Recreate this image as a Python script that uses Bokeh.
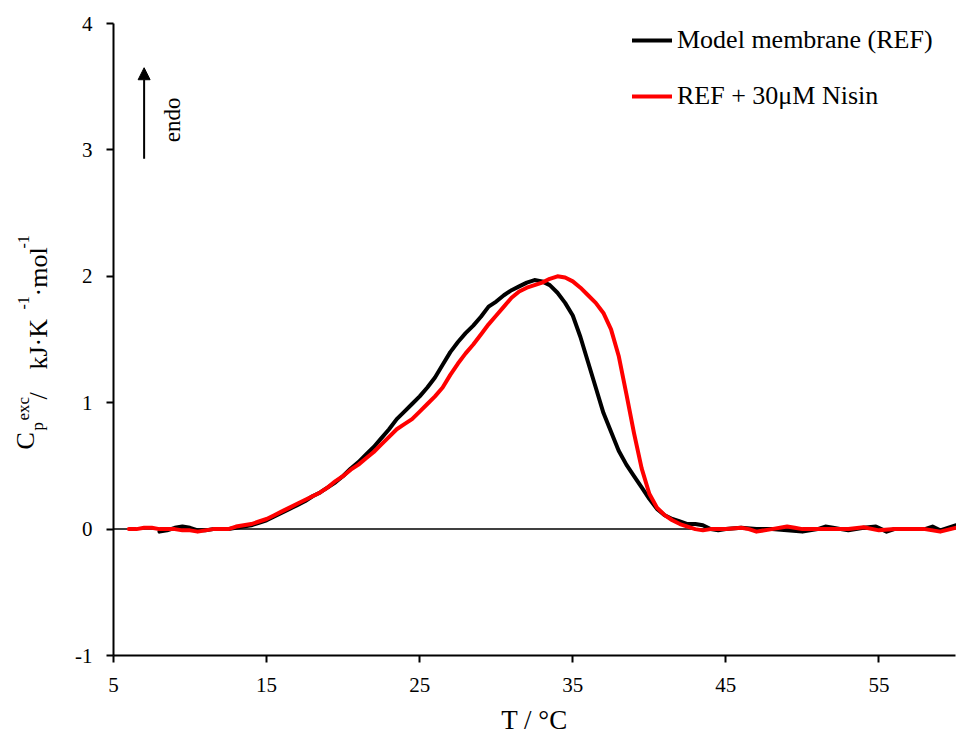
import numpy as np
from bokeh.plotting import figure
from bokeh.models import (FixedTicker, Label, Arrow, NormalHead, Legend,
                          LegendItem, Range1d)
from bokeh.embed import file_html
from bokeh.resources import INLINE

# ---------------- data ----------------
T_ref = [8.0, 8.5, 9.0, 9.5, 10.0, 10.5, 11.0, 11.5, 12.0, 12.5, 13.0, 13.5, 14.0, 14.5,
         15.0, 15.5, 16.0, 16.5, 17.0, 17.5, 18.0, 18.5, 19.0, 19.5, 20.0, 20.5, 21.0,
         21.5, 22.0, 22.5, 23.0, 23.5, 24.0, 24.5, 25.0, 25.5, 26.0, 26.5, 27.0, 27.5,
         28.0, 28.5, 29.0, 29.5, 30.0, 30.5, 31.0, 31.5, 32.0, 32.5, 33.0, 33.5, 34.0,
         34.5, 35.0, 35.5, 36.0, 36.5, 37.0, 37.5, 38.0, 38.5, 39.0, 39.5, 40.0, 40.5,
         41.0, 41.5, 42.0, 42.5, 43.0, 43.5, 44.0, 44.5, 45.0, 46.0, 47.0, 48.0, 49.0,
         50.0, 51.0, 51.5, 52.0, 53.0, 54.0, 54.8, 55.5, 56.0, 57.0, 58.0, 58.5, 59.0,
         59.5, 60.0]
cp_ref = [-0.02, -0.01, 0.01, 0.02, 0.01, -0.01, -0.01, 0.0, 0.0, 0.0, 0.01, 0.02, 0.03,
          0.05, 0.07, 0.10, 0.13, 0.16, 0.19, 0.22, 0.26, 0.29, 0.33, 0.37, 0.42, 0.48,
          0.53, 0.59, 0.65, 0.72, 0.79, 0.87, 0.93, 0.99, 1.05, 1.12, 1.20, 1.30, 1.40,
          1.48, 1.55, 1.61, 1.68, 1.76, 1.80, 1.85, 1.89, 1.92, 1.95, 1.97, 1.96, 1.93,
          1.87, 1.79, 1.69, 1.52, 1.32, 1.12, 0.92, 0.77, 0.62, 0.51, 0.42, 0.33, 0.24,
          0.16, 0.11, 0.08, 0.06, 0.04, 0.04, 0.03, 0.0, -0.01, 0.0, 0.01, 0.0, 0.0,
          -0.01, -0.02, 0.0, 0.02, 0.01, -0.01, 0.01, 0.02, -0.02, 0.0, 0.0, 0.0, 0.02,
          -0.01, 0.01, 0.03]

T_nis = [6.0, 6.5, 7.0, 7.5, 8.0, 8.5, 9.0, 9.5, 10.0, 10.5, 11.0, 11.5, 12.0, 12.5,
         13.0, 13.5, 14.0, 14.5, 15.0, 15.5, 16.0, 16.5, 17.0, 17.5, 18.0, 18.5, 19.0,
         19.5, 20.0, 20.5, 21.0, 21.5, 22.0, 22.5, 23.0, 23.5, 24.0, 24.5, 25.0, 25.5,
         26.0, 26.5, 27.0, 27.5, 28.0, 28.5, 29.0, 29.5, 30.0, 30.5, 31.0, 31.5, 32.0,
         32.5, 33.0, 33.5, 34.0, 34.5, 35.0, 35.5, 36.0, 36.5, 37.0, 37.5, 38.0, 38.5,
         39.0, 39.5, 40.0, 40.5, 41.0, 41.5, 42.0, 42.5, 43.0, 43.5, 44.0, 45.0, 46.0,
         46.5, 47.0, 48.0, 49.0, 49.5, 50.0, 51.0, 52.0, 53.0, 54.0, 55.0, 56.0, 57.0,
         58.0, 59.0, 60.0]
cp_nis = [0.0, 0.0, 0.01, 0.01, 0.0, 0.0, 0.0, -0.01, -0.01, -0.02, -0.01, 0.0, 0.0,
          0.0, 0.02, 0.03, 0.04, 0.06, 0.08, 0.11, 0.14, 0.17, 0.20, 0.23, 0.26, 0.29,
          0.33, 0.38, 0.42, 0.47, 0.51, 0.56, 0.61, 0.67, 0.73, 0.79, 0.83, 0.87, 0.93,
          0.99, 1.05, 1.12, 1.22, 1.31, 1.39, 1.46, 1.54, 1.62, 1.69, 1.76, 1.83, 1.88,
          1.91, 1.93, 1.95, 1.98, 2.00, 1.99, 1.96, 1.91, 1.85, 1.79, 1.71, 1.58, 1.37,
          1.07, 0.76, 0.48, 0.28, 0.17, 0.11, 0.07, 0.04, 0.02, 0.0, -0.01, 0.0, 0.0,
          0.01, 0.0, -0.02, 0.0, 0.02, 0.01, 0.0, 0.0, 0.0, 0.0, 0.015, -0.01, 0.0, 0.0,
          0.0, -0.02, 0.01]

X_MIN, X_MAX = 5, 60
Y_MIN, Y_MAX = -1, 4
x_ticks = [5, 15, 25, 35, 45, 55]
y_ticks = [-1, 0, 1, 2, 3, 4]
y_tick_labels = {-1: "-1", 0: "0", 1: "1", 2: "2", 3: "3", 4: "4"}

ref_name = "Model membrane (REF)"
nis_name = "REF + 30\u03bcM Nisin"
x_title = "T / \u00b0C"
endo_text = "endo"

FONT = "Liberation Serif"

# ---------------- layout (pixels) ----------------
W, H = 956, 735
AX_L, AX_R, AX_T, AX_B = 113, 955, 23, 655   # where the axes box sits on the canvas
kx = (AX_R - AX_L) / (X_MAX - X_MIN)
ky = (AX_B - AX_T) / (Y_MAX - Y_MIN)
xr = Range1d(X_MIN - AX_L / kx, X_MAX + (W - AX_R) / kx)
yr = Range1d(Y_MIN - (H - AX_B) / ky, Y_MAX + AX_T / ky)

p = figure(width=W, height=H, output_backend="svg", toolbar_location=None,
           x_range=xr, y_range=yr,
           min_border_left=0, min_border_right=0, min_border_top=0,
           min_border_bottom=0)
p.outline_line_color = None
p.xgrid.visible = False
p.ygrid.visible = False
p.background_fill_color = "white"
p.border_fill_color = "white"

for ax in (p.xaxis[0], p.yaxis[0]):
    ax.axis_line_width = 2
    ax.axis_line_color = "black"
    ax.major_tick_line_width = 2
    ax.major_tick_line_color = "black"
    ax.major_tick_out = 7
    ax.major_tick_in = 0
    ax.minor_tick_out = 0
    ax.minor_tick_in = 0
    ax.major_label_text_font = FONT
    ax.major_label_text_font_size = "21px"
    ax.major_label_text_color = "black"

p.xaxis.fixed_location = Y_MIN
p.xaxis.bounds = (X_MIN, X_MAX)
p.yaxis.fixed_location = X_MIN
p.yaxis.bounds = (Y_MIN, Y_MAX)
p.xaxis.ticker = FixedTicker(ticks=x_ticks)
p.yaxis.ticker = FixedTicker(ticks=y_ticks)
p.yaxis.major_label_overrides = y_tick_labels
p.xaxis.major_label_standoff = 15
p.yaxis.major_label_standoff = 14
p.xaxis.axis_label = x_title
p.xaxis.axis_label_text_font = FONT
p.xaxis.axis_label_text_font_size = "27px"
p.xaxis.axis_label_text_font_style = "normal"
p.xaxis.axis_label_text_color = "black"
p.xaxis.axis_label_standoff = 10

# zero line across the axes box
p.line([X_MIN, X_MAX], [0, 0], line_color="black", line_width=1.5)

# curves
r_ref = p.line(T_ref, cp_ref, line_color="black", line_width=4,
               line_join="round", line_cap="round")
r_nis = p.line(T_nis, cp_nis, line_color="#ff0000", line_width=4,
               line_join="round", line_cap="round")

# legend
legend = Legend(items=[LegendItem(label=ref_name, renderers=[r_ref]),
                       LegendItem(label=nis_name, renderers=[r_nis])],
                location=(632, 624), orientation="vertical",
                glyph_width=40, glyph_height=28, label_height=28,
                label_standoff=5, spacing=26, padding=0, margin=0,
                label_text_font=FONT, label_text_font_size="26px",
                label_text_color="black",
                border_line_color=None, background_fill_alpha=0)
p.add_layout(legend)

# endo arrow
p.add_layout(Arrow(x_start=7.0, y_start=2.93, x_end=7.0, y_end=3.65,
                   line_width=2, line_color="black",
                   end=NormalHead(size=12, fill_color="black", line_color="black")))
p.add_layout(Label(x=8.85, y=3.06, text=endo_text, angle=np.pi / 2,
                   text_font=FONT, text_font_size="23px", text_color="black",
                   text_align="left", text_baseline="alphabetic"))

# y-axis title built from pieces (C_p^exc / kJ·K^-1·mol^-1)
ylabel_parts = [
    ("C", 26, 25, 449),
    ("p", 17, 37, 430),
    ("exc", 17, 23, 420),
    (" / ", 26, 38, 399),
    ("kJ\u00b7K", 26, 38, 369),
    ("-1", 16, 23, 309),
    ("\u00b7mol", 26, 38, 296),
    ("-1", 16, 23, 248),
]
for txt, size, bx, sy in ylabel_parts:
    p.add_layout(Label(x=bx, y=H - sy, x_units="screen",
                       y_units="screen", text=txt, angle=np.pi / 2,
                       text_font=FONT, text_font_size=f"{size}px",
                       text_color="black", text_align="left",
                       text_baseline="alphabetic"))

open("out.html", "w").write(file_html(p, INLINE))
